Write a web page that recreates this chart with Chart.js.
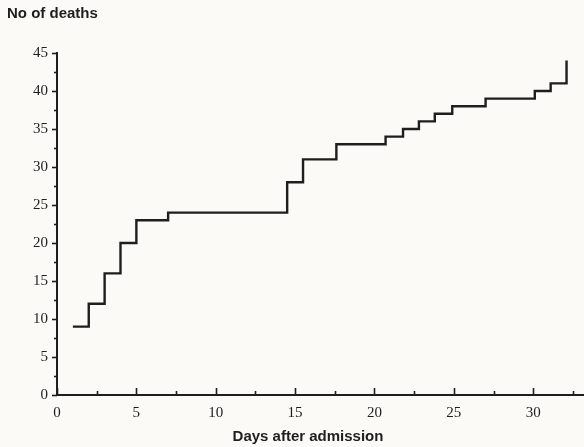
<!DOCTYPE html>
<html>
<head>
<meta charset="utf-8">
<script src="https://cdn.jsdelivr.net/npm/chart.js@4.4.1/dist/chart.umd.min.js"></script>
<style>
  html, body { margin: 0; padding: 0; background: #fbfaf6; }
  #wrap { position: relative; width: 584px; height: 447px; }
</style>
</head>
<body>
<div id="wrap"><canvas id="deathsChart" width="584" height="447"></canvas></div>
<script>
// cumulative deaths, step changes
const days = [1, 2, 3, 4, 5, 7, 14.5, 15.5, 17.6, 20.7, 21.8, 22.8, 23.8, 24.9, 27, 30.1, 31.1, 32.1];
const deaths = [9, 12, 16, 20, 23, 24, 28, 31, 33, 34, 35, 36, 37, 38, 39, 40, 41, 44];
const yTicks = [0, 5, 10, 15, 20, 25, 30, 35, 40, 45];
const xTicks = [0, 5, 10, 15, 20, 25, 30];
const yTitle = 'No of deaths';
const xTitle = 'Days after admission';

const INK = '#1e1e1e';
const SERIF = '"Liberation Serif", "DejaVu Serif", serif';
const SANS = '"Liberation Sans", Arial, sans-serif';

// tick marks: major every 5, minor at 2.5 between; y ticks point out, x ticks point in
const tickMarks = {
  id: 'tickMarks',
  afterDraw(chart) {
    const { ctx, chartArea: ca, scales: { x, y } } = chart;
    ctx.save();
    ctx.strokeStyle = INK; ctx.lineWidth = 1.6;
    for (let v = 0; v <= 45; v += 2.5) {
      const py = Math.round(y.getPixelForValue(v)) + 0.5;
      const len = v % 5 === 0 ? 5 : 3;
      ctx.beginPath(); ctx.moveTo(ca.left, py); ctx.lineTo(ca.left - len, py); ctx.stroke();
    }
    for (let v = 0; v <= 32.5; v += 2.5) {
      const px = Math.round(x.getPixelForValue(v)) + 0.5;
      const len = v % 5 === 0 ? 7 : 4;
      ctx.beginPath(); ctx.moveTo(px, ca.bottom); ctx.lineTo(px, ca.bottom - len); ctx.stroke();
    }
    ctx.fillStyle = INK;
    ctx.font = 'bold 15px ' + SANS;
    ctx.textBaseline = 'middle';
    ctx.textAlign = 'left';
    ctx.fillText(yTitle, 7, 14);
    ctx.textAlign = 'center';
    ctx.fillText(xTitle, 308, 437);
    ctx.restore();
  }
};

new Chart(document.getElementById('deathsChart'), {
  type: 'line',
  data: {
    datasets: [{
      data: days.map((d, i) => ({ x: d, y: deaths[i] })),
      stepped: 'before',
      borderColor: INK, borderWidth: 2.4,
      pointRadius: 0, fill: false, tension: 0
    }]
  },
  options: {
    responsive: false, animation: false,
    layout: { padding: { top: 53, left: 0, right: 0, bottom: 0 } },
    plugins: { legend: { display: false }, tooltip: { enabled: false } },
    scales: {
      x: {
        type: 'linear', min: 0, max: 33.2,
        afterFit: s => { s.height = 52; },
        afterBuildTicks: s => { s.ticks = xTicks.map(v => ({ value: v })); },
        ticks: { font: { family: SERIF, size: 15 }, color: INK, padding: 9, maxRotation: 0 },
        grid: { display: false, drawTicks: false },
        border: { display: true, color: INK, width: 2 }
      },
      y: {
        min: 0, max: 45,
        afterFit: s => { s.width = 57; },
        afterBuildTicks: s => { s.ticks = yTicks.map(v => ({ value: v })); },
        ticks: { font: { family: SERIF, size: 15 }, color: INK, padding: 9 },
        grid: { display: false, drawTicks: false },
        border: { display: true, color: INK, width: 2 }
      }
    }
  },
  plugins: [tickMarks]
});
</script>
</body>
</html>
